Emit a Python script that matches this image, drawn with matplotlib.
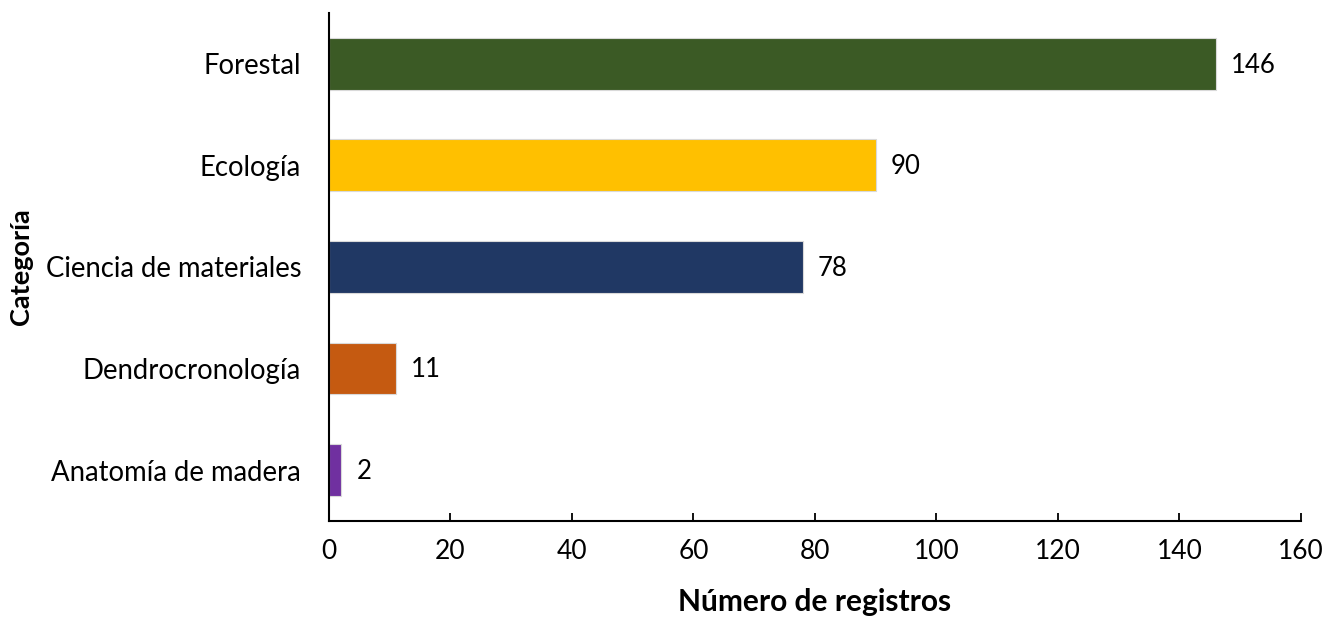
import matplotlib.pyplot as plt
import numpy as np

categorias = ['Anatomía de madera', 'Dendrocronología', 'Ciencia de materiales', 'Ecología', 'Forestal']
registros = [2, 11, 78, 90, 146]
colores = ['#7030A0', '#C55A11', '#203864', '#FFC000', '#3B5A25']
xticks = [0, 20, 40, 60, 80, 100, 120, 140, 160]

plt.rcParams['font.family'] = ['Lato', 'DejaVu Sans']

fig = plt.figure(figsize=(13.27, 6.17), dpi=100)
ax = fig.add_axes([0.2479, 0.1556, 0.7325, 0.8234])

y = np.arange(len(categorias))
bars = ax.barh(y, registros, height=0.51, color=colores, edgecolor='#d9d9d9', linewidth=0.8)

for b, v in zip(bars, registros):
    ax.annotate(str(v), (b.get_width(), b.get_y() + b.get_height() / 2),
                xytext=(11, -1), textcoords='offset points',
                ha='left', va='center', fontsize=18.5)

ax.set_xlim(0, 160)
ax.set_ylim(-0.5, 4.5)
ax.set_xticks(xticks)
ax.set_yticks(y)
ax.set_yticklabels(categorias)
ax.tick_params(axis='y', length=0, pad=20, labelsize=19.8)
ax.tick_params(axis='x', direction='in', length=6, width=1.3, pad=13, labelsize=19)

for s in ['top', 'right']:
    ax.spines[s].set_visible(False)
ax.spines['left'].set_linewidth(1.5)
ax.spines['bottom'].set_linewidth(1.5)

ax.set_xlabel('Número de registros', fontsize=21.5, fontweight='bold')
ax.xaxis.set_label_coords(0.5, -0.132)
ax.set_ylabel('Categoría', fontsize=19.5, fontweight='bold')
ax.yaxis.set_label_coords(-0.304, 0.5)

fig.savefig('out.png', dpi=100)
